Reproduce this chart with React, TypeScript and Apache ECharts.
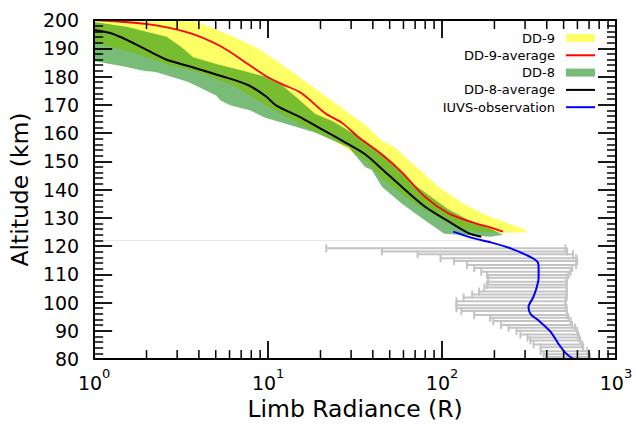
import React, { useEffect, useRef } from 'react';
import * as echarts from 'echarts';

const FONT = 'DejaVu Sans';

// [radiance (R), altitude (km)]
const dd9Right: number[][] = [
  [3.7, 200], [6.29, 194.2], [8.96, 189.6], [13.8, 181.6], [18.7, 175.7], [26.7, 168.8],
  [36.1, 162.9], [45.1, 157.3], [53.5, 154.9], [95.3, 141.0], [134, 134.8], [184, 130.6],
  [283, 126.5], [311, 125.1],
];
const dd9Left: number[][] = [
  [1.0, 200], [1.0, 192.0], [1.81, 187.9], [2.57, 184.4], [3.97, 181.6], [6.29, 176.8], [9.7, 169.8],
  [15.2, 162.9], [23.4, 157.7], [36.1, 150.4], [45.1, 143.8], [69.4, 135.1], [95.3, 129.9],
  [124, 126.5], [160, 125.0], [230, 124.7], [300, 124.8],
];
const dd9Average: number[][] = [
  [1.0, 200], [1.98, 198.6], [3.48, 195.5], [5.37, 190.6], [7.66, 184.4], [9.7, 180.2],
  [12.1, 177.2], [15.5, 174.2], [21.3, 167.0], [26.6, 163.6], [33.3, 158.4], [45, 152.5],
  [58.6, 146.2], [79.2, 137.6], [108, 131.7], [141, 128.9], [168, 127.5], [191, 126.5], [224, 125.1],
];
const dd8Right: number[][] = [
  [1.0, 199.3], [1.54, 197.6], [2.11, 195.5], [2.61, 194.1], [3.14, 190.6], [3.72, 186.8],
  [5.03, 184.4], [7.18, 182.0], [9.7, 179.9], [12.1, 176.8], [15.2, 171.6], [18.7, 166.7],
  [23.4, 164.3], [29.1, 160.8], [36.1, 157.3], [45.1, 152.5], [69.4, 141.7], [108, 133.1],
  [153, 128.2], [191, 126.1], [224, 124.0],
];
const dd8Left: number[][] = [
  [1.0, 185.4], [1.44, 183.7], [1.93, 182.0], [2.26, 181.6], [3.48, 178.1], [5.03, 173.3],
  [5.3, 171.6], [6.05, 169.8], [7.86, 168.1], [9.7, 165.3], [12.1, 163.6], [18.7, 160.1],
  [29.1, 154.9], [36.1, 148.0], [39.5, 146.9], [45.1, 141.0], [58.6, 135.1], [76.2, 129.9],
  [103, 124.4], [191, 123.3],
];
const dd8Average: number[][] = [
  [1.0, 196.5], [1.22, 195.5], [1.44, 193.8], [1.88, 190.3], [2.57, 186.1], [3.48, 183.7],
  [5.37, 180.2], [7.66, 177.0], [9.7, 173.0], [11.1, 169.8], [15.1, 165.8], [20.5, 161.2],
  [26.6, 157.3], [36.1, 152.5], [45.1, 147.3], [58.6, 141.0], [79.2, 134.1], [108, 128.9],
  [141, 124.7], [168, 123.3],
];
const iuvsObservation: number[][] = [
  [116, 125.1], [147, 123.0], [191, 121.3], [248, 119.2], [323, 116.1], [355, 114.3],
  [359, 112.2], [359, 108.8], [347, 104.6], [334, 101.8], [314, 98.4], [323, 95.9],
  [355, 93.9], [420, 89.7], [466, 85.5], [514, 82.1], [569, 80.0],
];
const errAltitude = [
  119.2, 118.1, 117.1, 115.7, 114.7, 113.3, 112.2, 110.9, 109.8, 108.8, 107.4, 106.3, 105.3,
  103.9, 102.9, 101.8, 100.5, 99.1, 98.0, 97.0, 95.6, 94.6, 93.5, 92.1, 91.1, 90.0, 88.7,
  87.6, 86.6, 85.2, 84.2, 82.8, 81.7, 80.7,
];
const errLow = [
  21.6, 45.1, 72.3, 98, 117, 139, 153, 168, 181, 184, 184, 181, 175, 163, 149, 133, 121, 121,
  121, 129, 153, 189, 197, 218, 241, 268, 282, 310, 322, 336, 369, 369, 384, 395,
];
const errHigh = [
  512, 524, 566, 590, 598, 590, 560, 548, 533, 520, 520, 520, 520, 520, 520, 520, 512, 512,
  520, 520, 524, 533, 548, 560, 582, 598, 606, 613, 623, 640, 648, 684, 693, 710,
];
const faintLine: number[][] = [[1, 122.0], [190, 122.0]];
const xMinorTicks = [2, 3, 4, 5, 6, 7, 8, 9, 20, 30, 40, 50, 60, 70, 80, 90, 200, 300, 400, 500, 600, 700, 800, 900];

const Y_MIN = 80;
const Y_MAX = 200;

const YELLOW = 'rgba(255,255,0,0.6)';
const GREEN = 'rgba(0,128,0,0.53)';
const LINE_ICON = 'path://M0,0H100V7H0Z';

function bandSeries(name: string, right: number[][], left: number[][], color: string) {
  const poly = right.concat(left.slice().reverse());
  return {
    name,
    type: 'custom',
    coordinateSystem: 'cartesian2d',
    clip: true,
    silent: true,
    itemStyle: { color },
    encode: { x: 0, y: 1 },
    data: poly,
    renderItem: (params: any, api: any) => {
      if (params.dataIndex !== 0) return null;
      const pts = poly.map((p) => api.coord(p));
      return { type: 'polygon', shape: { points: pts }, style: { fill: color, stroke: 'none' } };
    },
  };
}

export default function App() {
  const ref = useRef<HTMLDivElement>(null);
  useEffect(() => {
    if (!ref.current) return;
    const chart = echarts.init(ref.current, undefined, { renderer: 'svg' });
    const axisLine = { show: true, onZero: false, lineStyle: { color: '#000', width: 2 } };
    const axisTick = { show: true, inside: true, length: 18, lineStyle: { color: '#000', width: 1.8 } };
    const minorTick = { show: true, splitNumber: 5, length: 9, lineStyle: { color: '#000', width: 1.5 } };
    const option: any = {
      animation: false,
      backgroundColor: '#ffffff',
      textStyle: { fontFamily: FONT },
      grid: { left: 90, right: 20, top: 20, bottom: 60, containLabel: false, show: false },
      legend: {
        orient: 'vertical',
        right: 36,
        top: 26,
        align: 'right',
        itemWidth: 29,
        itemHeight: 8,
        itemGap: 3.3,
        selectedMode: false,
        itemStyle: { borderWidth: 0 },
        textStyle: { fontSize: 13, fontFamily: FONT, color: '#000', lineHeight: 14, padding: [0, 6, 0, 0] },
        data: [
          { name: 'DD-9', icon: 'rect' },
          { name: 'DD-9-average', icon: LINE_ICON },
          { name: 'DD-8', icon: 'rect' },
          { name: 'DD-8-average', icon: LINE_ICON },
          { name: 'IUVS-observation', icon: LINE_ICON },
        ],
      },
      xAxis: [
        {
          type: 'log', logBase: 10, min: 1, max: 1000, position: 'bottom', z: 10,
          axisLine, axisTick, splitLine: { show: false },
          axisLabel: {
            margin: 8, color: '#000',
            formatter: (v: number) => `{b|10}{s|${Math.round(Math.log10(v))}}`,
            rich: {
              b: { fontSize: 19, fontFamily: FONT, color: '#000', lineHeight: 25, verticalAlign: 'bottom' },
              s: { fontSize: 13, fontFamily: FONT, color: '#000', lineHeight: 13, verticalAlign: 'top' },
            },
          },
          name: 'Limb Radiance (R)', nameLocation: 'middle', nameGap: 32,
          nameTextStyle: { fontSize: 23.5, fontFamily: FONT, color: '#000' },
        },
        {
          type: 'log', logBase: 10, min: 1, max: 1000, position: 'top', z: 10,
          axisLine, axisTick, splitLine: { show: false }, axisLabel: { show: false },
        },
      ],
      yAxis: [
        {
          type: 'value', min: Y_MIN, max: Y_MAX, interval: 10, position: 'left', z: 10,
          axisLine, axisTick, minorTick, splitLine: { show: false }, minorSplitLine: { show: false },
          axisLabel: { fontSize: 19, fontFamily: FONT, color: '#000', margin: 15 },
          name: 'Altitude (km)', nameLocation: 'middle', nameGap: 53, nameRotate: 90,
          nameTextStyle: { fontSize: 23.5, fontFamily: FONT, color: '#000' },
        },
        {
          type: 'value', min: Y_MIN, max: Y_MAX, interval: 10, position: 'right', z: 10,
          axisLine, axisTick, minorTick, splitLine: { show: false }, minorSplitLine: { show: false },
          axisLabel: { show: false },
        },
      ],
      series: [
        bandSeries('DD-9', dd9Right, dd9Left, YELLOW),
        {
          name: 'DD-9-average', type: 'line', data: dd9Average, symbol: 'none', smooth: 0.3,
          lineStyle: { color: '#ff0000', width: 1.8 }, itemStyle: { color: '#ff0000' }, silent: true,
        },
        bandSeries('DD-8', dd8Right, dd8Left, GREEN),
        {
          name: 'DD-8-average', type: 'line', data: dd8Average, symbol: 'none', smooth: 0.3,
          lineStyle: { color: '#000000', width: 2 }, itemStyle: { color: '#000000' }, silent: true,
        },
        {
          name: 'faint', type: 'line', data: faintLine, symbol: 'none',
          lineStyle: { color: '#e6e6e6', width: 1 }, silent: true,
        },
        {
          name: 'IUVS-error', type: 'custom', clip: true, silent: true,
          encode: { x: [0, 1], y: 2 },
          data: errAltitude.map((a, i) => [errLow[i], errHigh[i], a]),
          renderItem: (params: any, api: any) => {
            const alt = api.value(2);
            const p1 = api.coord([api.value(0), alt]);
            const p2 = api.coord([api.value(1), alt]);
            const c = 4;
            const st = { stroke: '#c4c4c4', lineWidth: 2 };
            return {
              type: 'group',
              children: [
                { type: 'line', shape: { x1: p1[0], y1: p1[1], x2: p2[0], y2: p2[1] }, style: st },
                { type: 'line', shape: { x1: p1[0], y1: p1[1] - c, x2: p1[0], y2: p1[1] + c }, style: st },
                { type: 'line', shape: { x1: p2[0], y1: p2[1] - c, x2: p2[0], y2: p2[1] + c }, style: st },
              ],
            };
          },
        },
        {
          name: 'IUVS-observation', type: 'line', data: iuvsObservation, symbol: 'none', smooth: 0.3,
          lineStyle: { color: '#0000ff', width: 2 }, itemStyle: { color: '#0000ff' }, silent: true,
        },
        {
          name: 'minor-ticks', type: 'custom', silent: true, z: 12, clip: false,
          encode: { x: 0, y: 1 },
          data: xMinorTicks.map((v) => [v, Y_MIN]),
          renderItem: (params: any, api: any) => {
            const x = api.value(0);
            const b = api.coord([x, Y_MIN]);
            const t = api.coord([x, Y_MAX]);
            const st = { stroke: '#000', lineWidth: 1.5 };
            return {
              type: 'group',
              children: [
                { type: 'line', shape: { x1: b[0], y1: b[1], x2: b[0], y2: b[1] - 9 }, style: st },
                { type: 'line', shape: { x1: t[0], y1: t[1], x2: t[0], y2: t[1] + 9 }, style: st },
              ],
            };
          },
        },
      ],
    };
    chart.setOption(option);
    return () => chart.dispose();
  }, []);
  return <div ref={ref} style={{ position: 'fixed', left: 0, top: 0, width: 636, height: 426 }} />;
}
